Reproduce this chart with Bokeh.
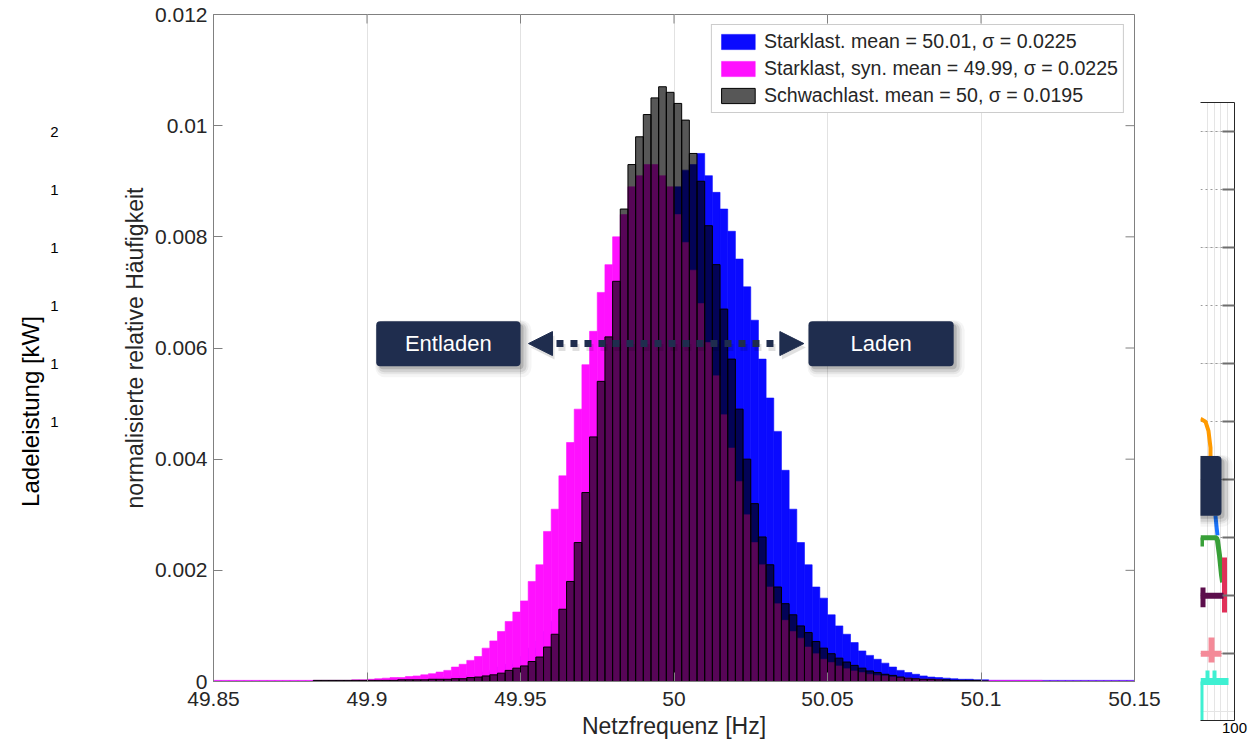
import numpy as np
from bokeh.plotting import figure
from bokeh.layouts import row, column
from bokeh.models import (FixedTicker, LinearAxis, Range1d, BoxAnnotation, Label, Arrow,
                          NormalHead, Legend, LegendItem, ColumnDataSource, Grid,
                          NumeralTickFormatter)
from bokeh.embed import file_html
from bokeh.resources import INLINE

# ---------------- data ----------------
bin_start = 49.85
bin_width = 0.0025
n_bins = 120

# Starklast (blue)
starklast = [
    1e-5, 1e-5, 1e-5, 1e-5, 1e-5, 1e-5, 1e-5, 1e-5, 1e-5, 1e-5,
    1e-5, 1e-5, 1e-5, 1e-5, 1e-5, 1e-5, 1e-5, 1e-5, 1e-5, 1e-5,
    2e-5, 2e-5, 2e-5, 3e-5, 3e-5, 3e-5, 4e-5, 5e-5, 6e-5, 7e-5,
    7e-5, 9e-5, 1.0e-4, 1.2e-4, 1.4e-4, 1.7e-4, 2.0e-4, 2.6e-4, 3.1e-4, 3.8e-4,
    4.5e-4, 6.0e-4, 7.3e-4, 9.0e-4, 1.08e-3, 1.25e-3, 1.45e-3, 1.8e-3, 2.1e-3, 2.7e-3,
    3.1e-3, 3.7e-3, 4.3e-3, 4.9e-3, 5.7e-3, 6.3e-3, 7.0e-3, 7.5e-3, 8.0e-3, 8.4e-3,
    8.9e-3, 9.2e-3, 9.3e-3, 9.5e-3, 9.1e-3, 8.8e-3, 8.5e-3, 8.1e-3, 7.6e-3, 7.1e-3,
    6.5e-3, 5.8e-3, 5.1e-3, 4.5e-3, 3.8e-3, 3.1e-3, 2.5e-3, 2.1e-3, 1.7e-3, 1.5e-3,
    1.2e-3, 1.0e-3, 8.5e-4, 7.0e-4, 5.5e-4, 4.7e-4, 4.0e-4, 3.3e-4, 2.6e-4, 2.0e-4,
    1.6e-4, 1.3e-4, 1.0e-4, 8e-5, 7e-5, 6e-5, 5e-5, 4e-5, 4e-5, 3e-5,
    3e-5, 2e-5, 2e-5, 2e-5, 2e-5, 2e-5, 2e-5, 2e-5, 2e-5, 2e-5,
    2e-5, 2e-5, 2e-5, 2e-5, 2e-5, 2e-5, 2e-5, 2e-5, 2e-5, 2e-5,
]

# Starklast, syn. (magenta)
starklast_syn = [
    2e-5, 2e-5, 2e-5, 2e-5, 2e-5, 2e-5, 2e-5, 2e-5, 2e-5, 2e-5,
    2e-5, 2e-5, 2e-5, 2e-5, 2e-5, 2e-5, 2e-5, 2e-5, 3e-5, 3e-5,
    4e-5, 5e-5, 6e-5, 7e-5, 7e-5, 9e-5, 1.0e-4, 1.2e-4, 1.4e-4, 1.7e-4,
    2.0e-4, 2.6e-4, 3.1e-4, 3.8e-4, 4.5e-4, 6.0e-4, 7.3e-4, 9.0e-4, 1.08e-3, 1.25e-3,
    1.45e-3, 1.8e-3, 2.1e-3, 2.7e-3, 3.1e-3, 3.7e-3, 4.3e-3, 4.9e-3, 5.7e-3, 6.3e-3,
    7.0e-3, 7.5e-3, 8.0e-3, 8.4e-3, 8.9e-3, 9.1e-3, 9.3e-3, 9.3e-3, 9.1e-3, 8.9e-3,
    8.4e-3, 7.9e-3, 7.4e-3, 6.8e-3, 6.1e-3, 5.5e-3, 4.8e-3, 4.2e-3, 3.6e-3, 3.0e-3,
    2.5e-3, 2.1e-3, 1.7e-3, 1.4e-3, 1.1e-3, 9.0e-4, 7.8e-4, 6.2e-4, 5.0e-4, 4.0e-4,
    3.4e-4, 2.8e-4, 2.3e-4, 1.9e-4, 1.6e-4, 1.3e-4, 1.1e-4, 1.0e-4, 8e-5, 7e-5,
    6e-5, 5e-5, 4e-5, 4e-5, 3e-5, 1e-5, 1e-5, 1e-5, 1e-5, 1e-5,
    1e-5, 2e-5, 2e-5, 2e-5, 2e-5, 2e-5, 2e-5, 2e-5, 1e-5, 1e-5,
    1e-5, 1e-5, 1e-5, 1e-5, 1e-5, 1e-5, 1e-5, 1e-5, 1e-5, 1e-5,
]

# Schwachlast (dark, translucent)
schwachlast = [
    0, 0, 0, 0, 0, 0, 0, 0, 0, 0,
    0, 0, 0, 2e-5, 2e-5, 2e-5, 2e-5, 2e-5, 2e-5, 2e-5,
    2e-5, 2e-5, 2e-5, 2e-5, 3e-5, 3e-5, 3e-5, 3e-5, 4e-5, 4e-5,
    4e-5, 5e-5, 5e-5, 7e-5, 8e-5, 1.0e-4, 1.2e-4, 1.5e-4, 2.0e-4, 2.4e-4,
    2.8e-4, 3.6e-4, 4.4e-4, 6.2e-4, 8.5e-4, 1.3e-3, 1.8e-3, 2.5e-3, 3.4e-3, 4.4e-3,
    5.4e-3, 6.2e-3, 7.2e-3, 8.5e-3, 9.3e-3, 9.8e-3, 1.02e-2, 1.05e-2, 1.07e-2, 1.06e-2,
    1.04e-2, 1.01e-2, 9.5e-3, 9.0e-3, 8.2e-3, 7.5e-3, 6.7e-3, 5.8e-3, 4.9e-3, 4.0e-3,
    3.2e-3, 2.6e-3, 2.1e-3, 1.7e-3, 1.4e-3, 1.2e-3, 1.0e-3, 8.8e-4, 7.2e-4, 6.0e-4,
    5.0e-4, 4.2e-4, 3.5e-4, 2.9e-4, 2.4e-4, 1.9e-4, 1.6e-4, 1.3e-4, 1.1e-4, 8e-5,
    6e-5, 5e-5, 4e-5, 4e-5, 3e-5, 3e-5, 2e-5, 2e-5, 2e-5, 2e-5,
    1e-5, 0, 0, 0, 0, 0, 0, 0, 0, 0,
    0, 0, 0, 0, 0, 0, 0, 0, 0, 0,
]

series_labels = [
    "Starklast. mean = 50.01, σ = 0.0225",
    "Starklast, syn. mean = 49.99, σ = 0.0225",
    "Schwachlast. mean = 50, σ = 0.0195",
]

x_ticks = [49.85, 49.9, 49.95, 50.0, 50.05, 50.1, 50.15]
y_ticks = [0, 0.002, 0.004, 0.006, 0.008, 0.01, 0.012]

side_ticks = [5, 6, 7, 8, 9, 10]
side_tick_labels = ["1", "1", "1", "1", "1", "2"]
panel_ticks = [1, 2, 3, 4, 5, 6, 7, 8, 9, 10]

# overlapping right panel traces (x 0..100, y -0.15..10.5)
rp_orange_x = [0, 14.7, 23.5, 29.4, 29.4]
rp_orange_y = [5.05, 5.0, 4.84, 4.55, 4.41]
rp_blue_x = [44, 47, 50]
rp_blue_y = [3.38, 3.2, 3.04]
rp_green_xs = [[0, 47, 50, 56, 62, 65], [2.9, 2.9]]
rp_green_ys = [[3.0, 3.0, 2.95, 2.69, 2.35, 2.23], [3.0, 2.85]]
rp_red_x = [70.6, 70.6]
rp_red_y = [2.66, 1.71]
rp_purple_xs = [[0, 67.6], [5.9, 5.9]]
rp_purple_ys = [[2.0, 2.0], [2.14, 1.8]]
rp_pink_xs = [[0, 61.8], [32.4, 32.4]]
rp_pink_ys = [[1.0, 1.0], [1.28, 0.85]]
rp_cyan_xs = [[20.6, 20.6], [41.2, 41.2], [2.9, 2.9]]
rp_cyan_ys = [[0.52, 0.71], [0.52, 0.71], [0.52, -0.15]]
rp_cyan_bar_x = [0, 82.4]
rp_cyan_bar_y = [0.52, 0.52]

# ---------------- styling ----------------
FONT = "Liberation Sans"
NAVY = "#1f2d4e"
TXT = "#262626"
AX = "#808080"
H = 748

# ---------------- main figure ----------------
p = figure(width=1092, height=H, x_range=Range1d(49.85, 50.15), y_range=Range1d(0, 0.012),
           toolbar_location=None, output_backend="svg",
           min_border_left=105, min_border_right=66, min_border_top=14, min_border_bottom=H - 681)
p.background_fill_color = "white"
p.border_fill_color = "white"
p.outline_line_color = AX

edges = bin_start + bin_width * np.arange(n_bins + 1)


def make_source(vals):
    v = np.asarray(vals, dtype=float)
    m = v > 0
    return ColumnDataSource(dict(left=edges[:-1][m], right=edges[1:][m],
                                 top=v[m], bottom=np.zeros(int(m.sum()))))


r_blue = p.quad(left="left", right="right", top="top", bottom="bottom", source=make_source(starklast),
                fill_color="#0a0aff", line_color="#0a0aff", line_width=0.6)
r_pink = p.quad(left="left", right="right", top="top", bottom="bottom", source=make_source(starklast_syn),
                fill_color="#ff10ff", line_color="#ff10ff", line_width=0.6)
r_black = p.quad(left="left", right="right", top="top", bottom="bottom", source=make_source(schwachlast),
                 fill_color="black", fill_alpha=0.66, line_color="black", line_width=1)

for ax in (p.xaxis[0], p.yaxis[0]):
    ax.major_label_text_font = FONT
    ax.major_label_text_font_size = "21px"
    ax.major_label_text_color = TXT
    ax.axis_label_text_font = FONT
    ax.axis_label_text_font_size = "23px"
    ax.axis_label_text_font_style = "normal"
    ax.axis_label_text_color = TXT
    ax.major_tick_in = 9
    ax.major_tick_out = 0
    ax.minor_tick_line_color = None
    ax.axis_line_color = AX
    ax.major_tick_line_color = AX

p.xaxis.ticker = FixedTicker(ticks=x_ticks)
p.xaxis.formatter = NumeralTickFormatter(format="0.[00]")
p.xaxis.axis_label = "Netzfrequenz [Hz]"
p.xaxis.major_label_standoff = 10
p.xaxis.axis_label_standoff = 4

p.yaxis.ticker = FixedTicker(ticks=y_ticks)
p.yaxis.formatter = NumeralTickFormatter(format="0.[000]")
p.yaxis.axis_label = "normalisierte relative Häufigkeit"
p.yaxis.major_label_standoff = 6
p.yaxis.axis_label_standoff = 4

p.xgrid.grid_line_color = "#e2e2e2"
p.ygrid.grid_line_color = None

# pixel sizes in data units (main frame 921 x 667 px)
ux = 0.3 / 921
uy = 0.012 / 667

# inward tick marks on the top and right frame edges
p.segment(x0=x_ticks, x1=x_ticks, y0=[0.012] * len(x_ticks), y1=[0.012 - 9 * uy] * len(x_ticks),
          line_color=AX, line_width=1)
p.segment(x0=[50.15] * len(y_ticks), x1=[50.15 - 9 * ux] * len(y_ticks), y0=y_ticks, y1=y_ticks,
          line_color=AX, line_width=1)

legend = Legend(items=[LegendItem(label=series_labels[0], renderers=[r_blue]),
                       LegendItem(label=series_labels[1], renderers=[r_pink]),
                       LegendItem(label=series_labels[2], renderers=[r_black])],
                location="top_right", margin=10, padding=5, spacing=4,
                glyph_width=42, glyph_height=19, label_height=19, label_standoff=5,
                label_text_font=FONT, label_text_font_size="19.6px", label_text_color=TXT,
                border_line_color="#9a9a9a", border_line_width=1, background_fill_alpha=1)
p.add_layout(legend)


def shadowed_box(fig, left, right, top, bottom, ux, uy):
    for off, grow, alpha in [(5, 6, 0.04), (4, 4, 0.06), (4, 2, 0.09), (3, 0, 0.14)]:
        fig.add_layout(BoxAnnotation(left=left + (off - grow) * ux, right=right + (off + grow) * ux,
                                     top=top - (off - grow) * uy, bottom=bottom - (off + grow) * uy,
                                     fill_color="black", fill_alpha=alpha, line_color=None,
                                     border_radius=4 + grow))
    fig.add_layout(BoxAnnotation(left=left, right=right, top=top, bottom=bottom,
                                 fill_color=NAVY, fill_alpha=1, line_color=None, border_radius=4))


# annotation boxes
ent = (49.9030, 49.9500, 0.00648, 0.00567)
lad = (50.0438, 50.0911, 0.00648, 0.00567)
shadowed_box(p, *ent, ux, uy)
shadowed_box(p, *lad, ux, uy)
for (l, r, t, b), txt in ((ent, "Entladen"), (lad, "Laden")):
    p.add_layout(Label(x=(l + r) / 2, y=(t + b) / 2, text=txt, text_align="center",
                       text_baseline="middle", text_color="white", text_font=FONT,
                       text_font_size="22px"))

arrow_y = 0.00608
p.add_layout(Arrow(x_start=49.9526 + 2 * ux, y_start=arrow_y - 4 * uy, x_end=50.0423 + 2 * ux,
                   y_end=arrow_y - 4 * uy,
                   start=NormalHead(size=24, fill_color="black", fill_alpha=0.12, line_color=None),
                   end=NormalHead(size=24, fill_color="black", fill_alpha=0.12, line_color=None),
                   line_color="black", line_alpha=0.12, line_width=7, line_dash="7 7"))
p.add_layout(Arrow(x_start=49.9526, y_start=arrow_y, x_end=50.0423, y_end=arrow_y,
                   start=NormalHead(size=24, fill_color=NAVY, line_color=NAVY),
                   end=NormalHead(size=24, fill_color=NAVY, line_color=NAVY),
                   line_color=NAVY, line_width=7, line_dash="7 7"))

# ---------------- left (overlapping axis remnant) ----------------
lf = figure(width=108, height=H, x_range=Range1d(0, 1), y_range=Range1d(-0.15, 10.5),
            toolbar_location=None, output_backend="svg", x_axis_location=None,
            min_border_left=69, min_border_right=0, min_border_top=102, min_border_bottom=H - 720)
lf.outline_line_color = None
lf.grid.visible = False
lf.yaxis.ticker = FixedTicker(ticks=side_ticks)
lf.yaxis.major_label_overrides = dict(zip(side_ticks, side_tick_labels))
lf.yaxis.axis_line_color = None
lf.yaxis.major_tick_line_color = None
lf.yaxis.minor_tick_line_color = None
lf.yaxis.major_label_text_font = FONT
lf.yaxis.major_label_text_font_size = "15px"
lf.yaxis.major_label_text_color = "black"
lf.yaxis.major_label_standoff = 5
lf.yaxis.axis_label = "Ladeleistung [kW]"
lf.yaxis.axis_label_text_font = FONT
lf.yaxis.axis_label_text_font_size = "24px"
lf.yaxis.axis_label_text_font_style = "normal"
lf.yaxis.axis_label_text_color = "black"
lf.yaxis.axis_label_standoff = 3

# ---------------- right (overlapping panel remnant) ----------------
rp = figure(width=48, height=H, x_range=Range1d(0, 100), y_range=Range1d(-0.15, 10.5),
            toolbar_location=None, output_backend="svg", x_axis_location=None, y_axis_location=None,
            min_border_left=0, min_border_right=14, min_border_top=102, min_border_bottom=H - 720)
rp.outline_line_color = None
rp.add_layout(Grid(dimension=1, ticker=FixedTicker(ticks=panel_ticks), grid_line_color="#9a9a9a",
                   grid_line_dash="2 3", grid_line_width=1))
rp.add_layout(LinearAxis(ticker=FixedTicker(ticks=panel_ticks), major_tick_in=12, major_tick_out=0,
                         minor_tick_line_color=None, axis_line_color="#262626",
                         major_tick_line_color="#6e6e6e", major_tick_line_width=2,
                         major_label_text_font_size="1px", major_label_text_color=None,
                         major_label_standoff=0), "right")
rp.add_layout(LinearAxis(ticker=FixedTicker(ticks=[]), major_tick_in=0, major_tick_out=0,
                         minor_tick_line_color=None, axis_line_color="#262626",
                         major_label_text_font_size="1px", major_label_text_color=None,
                         major_label_standoff=0), "above")
rp.add_layout(LinearAxis(ticker=FixedTicker(ticks=[100]), major_tick_in=0, major_tick_out=0,
                         minor_tick_line_color=None, axis_line_color="#262626",
                         major_label_text_font=FONT, major_label_text_font_size="15px",
                         major_label_text_color="black", major_label_standoff=2), "below")

rp.line(rp_orange_x, rp_orange_y, line_color="#ff9a00", line_width=4)
rp_ux = 100 / 34
rp_uy = 10.65 / 618
for off, grow, alpha in [(5, 6, 0.04), (4, 4, 0.06), (4, 2, 0.09), (3, 0, 0.14)]:
    rp.add_layout(BoxAnnotation(left=-30, right=61.8 + (off + grow) * rp_ux,
                                top=4.41 - (off - grow) * rp_uy, bottom=3.38 - (off + grow) * rp_uy,
                                fill_color="black", fill_alpha=alpha, line_color=None,
                                border_radius=4 + grow))
rp.add_layout(BoxAnnotation(left=-30, right=61.8, top=4.41, bottom=3.38, fill_color=NAVY,
                            fill_alpha=1, line_color=None, border_radius=4))
rp.line(rp_blue_x, rp_blue_y, line_color="#1a75ff", line_width=4)
rp.multi_line(rp_green_xs, rp_green_ys, line_color="#38a038", line_width=5)
rp.line(rp_red_x, rp_red_y, line_color="#e03058", line_width=5)
rp.multi_line(rp_purple_xs, rp_purple_ys, line_color="#5c0e4c", line_width=6)
rp.multi_line(rp_pink_xs, rp_pink_ys, line_color="#f48a98", line_width=6)
rp.line(rp_cyan_bar_x, rp_cyan_bar_y, line_color="#3ff0d2", line_width=7)
rp.multi_line(rp_cyan_xs, rp_cyan_ys, line_color="#3ff0d2", line_width=4)

layout = row(column(lf), column(p), column(rp))
open("out.html", "w").write(file_html(layout, INLINE))
